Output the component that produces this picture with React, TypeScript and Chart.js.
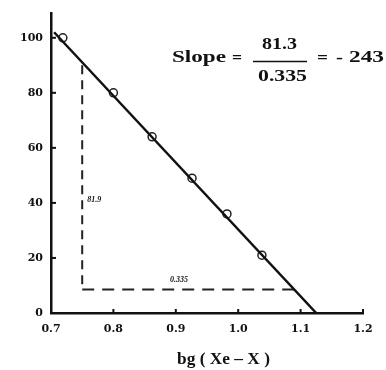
import React, { useEffect, useRef } from "react";
import { Chart, registerables } from "chart.js";

Chart.register(...registerables);

const pointX = [0.719, 0.8, 0.862, 0.926, 0.982, 1.038];
const pointY = [100, 80, 64, 49, 36, 21];
const fitX = [0.705, 1.125];
const fitY = [102, 0];
const dashVX = [0.75, 0.75];
const dashVY = [90, 8.5];
const dashHX = [0.75, 1.09];
const dashHY = [8.5, 8.5];
const xTicks = [0.7, 0.8, 0.9, 1.0, 1.1, 1.2];
const yTicks = [0, 20, 40, 60, 80, 100];
const xTickLabels = ["0.7", "0.8", "0.9", "1.0", "1.1", "1.2"];
const yTickLabels = ["0", "20", "40", "60", "80", "100"];
const riseLabel = "81.9";
const runLabel = "0.335";
const slopeWord = "Slope";
const slopeNum = "81.3";
const slopeDen = "0.335";
const slopeResult = "243";
const xTitle = "bg ( Xe \u2013 X )";

const pts = (xs: number[], ys: number[]) => xs.map((x, i) => ({ x, y: ys[i] }));

const SERIF = "'Liberation Serif', 'DejaVu Serif', serif";
const DSERIF = "'DejaVu Serif', 'Liberation Serif', serif";

function fitText(ctx: any, text: string, left: number, width: number, cy: number) {
  const w = ctx.measureText(text).width;
  ctx.save();
  ctx.translate(left, cy);
  ctx.scale(width / w, 1);
  ctx.textAlign = "left";
  ctx.textBaseline = "middle";
  ctx.fillText(text, 0, 0);
  ctx.restore();
}

export default function App() {
  const ref = useRef<HTMLCanvasElement>(null);
  useEffect(() => {
    if (!ref.current) return;
    const overlay = {
      id: "overlay",
      afterDraw(chart: any) {
        const ctx = chart.ctx;
        const xs = chart.scales.x;
        const ys = chart.scales.y;
        ctx.save();
        ctx.strokeStyle = "#111";
        ctx.lineWidth = 2;
        // inward ticks
        yTicks.forEach((v) => {
          const py = ys.getPixelForValue(v);
          ctx.beginPath();
          ctx.moveTo(xs.left, py);
          ctx.lineTo(xs.left + 5, py);
          ctx.stroke();
        });
        xTicks.forEach((v) => {
          const px = xs.getPixelForValue(v);
          ctx.beginPath();
          ctx.moveTo(px, ys.bottom);
          ctx.lineTo(px, ys.bottom - 4);
          ctx.stroke();
        });
        ctx.fillStyle = "#111";
        // small labels
        ctx.font = `italic bold 8px ${SERIF}`;
        ctx.textAlign = "left";
        ctx.textBaseline = "middle";
        ctx.fillText(riseLabel, xs.getPixelForValue(0.758), ys.getPixelForValue(41));
        ctx.textAlign = "center";
        ctx.fillText(runLabel, xs.getPixelForValue(0.905), ys.getPixelForValue(12));
        // slope text
        ctx.font = `bold 17px ${SERIF}`;
        fitText(ctx, slopeWord, 172, 54, 58);
        fitText(ctx, "=", 232, 10, 59);
        fitText(ctx, slopeNum, 262, 35, 45);
        fitText(ctx, slopeDen, 258, 49, 77);
        ctx.lineWidth = 1.5;
        ctx.beginPath();
        ctx.moveTo(253, 61.5);
        ctx.lineTo(307, 61.5);
        ctx.stroke();
        fitText(ctx, "=", 317, 11, 59);
        fitText(ctx, "-", 336, 7, 59);
        fitText(ctx, slopeResult, 349, 35, 58);
        // axis title
        ctx.font = `bold 16px ${SERIF}`;
        fitText(ctx, xTitle, 177, 93, 360);
        ctx.restore();
      },
    };
    const tickFont = { family: DSERIF, size: 11, weight: "bold" };
    const chart = new Chart(ref.current, {
      type: "scatter",
      data: {
        datasets: [
          {
            data: pts(fitX, fitY),
            showLine: true,
            borderColor: "#111",
            borderWidth: 2.5,
            pointRadius: 0,
          },
          {
            data: pts(pointX, pointY),
            showLine: false,
            borderColor: "#222",
            backgroundColor: "rgba(0,0,0,0)",
            borderWidth: 1.5,
            pointRadius: 4,
          },
          {
            data: pts(dashVX, dashVY),
            showLine: true,
            borderColor: "#222",
            borderWidth: 2,
            borderDash: [9, 6],
            pointRadius: 0,
          },
          {
            data: pts(dashHX, dashHY),
            showLine: true,
            borderColor: "#222",
            borderWidth: 2,
            borderDash: [12, 8],
            pointRadius: 0,
          },
        ],
      },
      options: {
        responsive: false,
        animation: false,
        layout: { padding: { top: 13, right: 23, left: 0, bottom: 0 } },
        plugins: { legend: { display: false }, tooltip: { enabled: false } },
        scales: {
          x: {
            type: "linear",
            min: 0.7,
            max: 1.2,
            grid: { display: false },
            border: { display: true, color: "#111", width: 2.5 },
            afterBuildTicks: (s: any) => {
              s.ticks = xTicks.map((v) => ({ value: v }));
            },
            afterFit: (s: any) => {
              s.height = 57;
            },
            ticks: {
              padding: 2,
              color: "#111",
              font: tickFont,
              callback: (v: any) => {
                const i = xTicks.findIndex((t) => Math.abs(t - v) < 1e-6);
                return i >= 0 ? xTickLabels[i] : "";
              },
              maxRotation: 0,
            },
          },
          y: {
            type: "linear",
            min: 0,
            max: 109,
            grid: { display: false },
            border: { display: true, color: "#111", width: 2.5 },
            afterBuildTicks: (s: any) => {
              s.ticks = yTicks.map((v) => ({ value: v }));
            },
            afterFit: (s: any) => {
              s.width = 51;
            },
            ticks: {
              padding: 0,
              color: "#111",
              font: tickFont,
              callback: (v: any) => {
                const i = yTicks.findIndex((t) => Math.abs(t - v) < 1e-6);
                return i >= 0 ? yTickLabels[i] : "";
              },
            },
          },
        },
      },
      plugins: [overlay],
    } as any);
    return () => chart.destroy();
  }, []);
  return (
    <div style={{ position: "fixed", left: 0, top: 0, width: 386, height: 370, background: "#fff" }}>
      <canvas ref={ref} width={386} height={370} style={{ width: 386, height: 370 }} />
    </div>
  );
}
